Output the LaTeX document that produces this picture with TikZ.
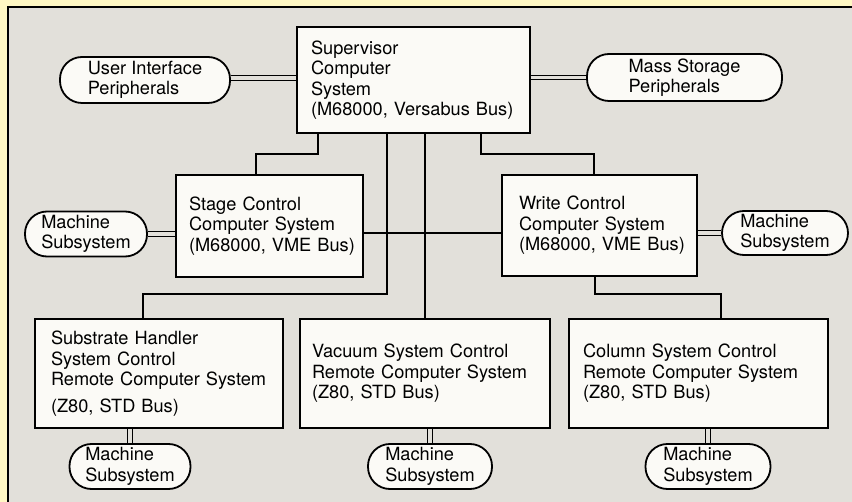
\documentclass[tikz,border=0pt]{standalone}
\usepackage{fontspec}
\setmainfont{TeX Gyre Heros}
\usetikzlibrary{positioning}
\definecolor{paper}{HTML}{FFF8C4}
\definecolor{panel}{HTML}{E2E0DA}
\definecolor{boxfill}{HTML}{FBFAF6}
\tikzset{
  labelfont/.style={font=\fontsize{18.2}{20.5}\selectfont},
  sysbox/.style={draw, line width=1.8pt, fill=boxfill, align=left, inner xsep=14pt, inner ysep=0pt, labelfont},
  periph/.style={draw, line width=1.8pt, fill=boxfill, rounded corners=22pt, align=left, inner sep=0pt, labelfont},
  link/.style={line width=1.3pt},
  dlink/.style={line width=1.1pt, double=panel, double distance=3.5pt},
}
\begin{document}
\begin{tikzpicture}[x=1pt,y=-1pt]
    \useasboundingbox (0,0) rectangle (852,502);
    \fill[paper] (0,0) rectangle (852,502);
    \fill[panel] (8,7) rectangle (852,502);
    \draw[line width=1.8pt] (8,502) -- (8,7) -- (852,7);
    \node[sysbox, text width=205pt, minimum height=106pt] (sup) at (413.5,80)
        {Supervisor\\Computer\\System\\(M68000,~Versabus~Bus)};
    \node[sysbox, inner xsep=13pt, text width=161pt, minimum height=102pt] (stage) at (269.5,226)
        {Stage Control\\Computer System\\(M68000,~VME~Bus)};
    \node[sysbox, inner xsep=17pt, text width=161pt, minimum height=101pt] (write) at (599.5,225.5)
        {Write Control\\Computer System\\(M68000,~VME~Bus)};
    \node[sysbox, inner xsep=16pt, text width=216pt, minimum height=109pt] (subst) at (159,373.5)
        {Substrate Handler\\System Control\\Remote~Computer~System\\[6pt](Z80, STD Bus)};
    \node[sysbox, inner xsep=12pt, text width=226pt, minimum height=109pt] (vac) at (425,373.5)
        {Vacuum System Control\\Remote~Computer~System\\(Z80, STD Bus)};
    \node[sysbox, text width=231pt, minimum height=109pt] (col) at (698.5,373.5)
        {Column System Control\\Remote~Computer~System\\(Z80, STD Bus)};
    \node[periph, minimum width=170pt, minimum height=46pt] (ui) at (145,80) {User Interface\\Peripherals};
    \node[periph, minimum width=195pt, minimum height=47pt] (mass) at (684.5,77.5) {Mass Storage\\Peripherals};
    \node[periph, minimum width=122pt, minimum height=45pt] (msl) at (86,234) {Machine\\Subsystem};
    \node[periph, minimum width=126pt, minimum height=44pt] (msr) at (785,233) {Machine\\Subsystem};
    \node[periph, minimum width=121pt, minimum height=45pt] (ms1) at (130,466.5) {Machine\\Subsystem};
    \node[periph, minimum width=124pt, minimum height=45pt] (ms2) at (430,466.5) {Machine\\Subsystem};
    \node[periph, minimum width=125pt, minimum height=45pt] (ms3) at (708,466.5) {Machine\\Subsystem};
    \coordinate (bus) at ([yshift=-7pt]stage.east);
    \draw[link] ([xshift=22pt]sup.south west) -- ++(0,20) -| ([xshift=81pt]stage.north west);
    \draw[link] ([xshift=185pt]sup.south west) -- ++(0,20) -| ([xshift=93pt]write.north west);
    \draw[link] ([xshift=91pt]sup.south west) -- ++(0,160) -| ([xshift=109pt]subst.north west);
    \draw[link] (vac.north) -- (vac.north |- sup.south);
    \draw[link] (bus) -- (bus -| write.west);
    \draw[link] ([xshift=94pt]write.south west) -- ++(0,17) -| ([xshift=153pt]col.north west);
    \draw[dlink] ([yshift=2pt]ui.east) -- ([yshift=2pt]ui.east -| sup.west);
    \draw[dlink] (mass.west) -- (mass.west -| sup.east);
    \draw[dlink] (msl.east) -- (msl.east -| stage.west);
    \draw[dlink] (msr.west) -- (msr.west -| write.east);
    \draw[dlink] (ms1.north) -- (ms1.north |- subst.south);
    \draw[dlink] (ms2.north) -- (ms2.north |- vac.south);
    \draw[dlink] (ms3.north) -- (ms3.north |- col.south);
\end{tikzpicture}
\end{document}
